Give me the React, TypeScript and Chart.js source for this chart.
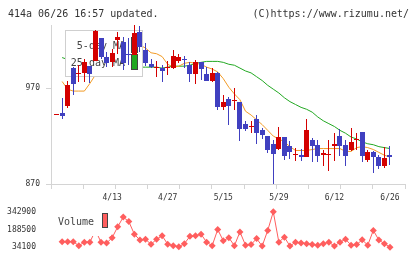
import React, { useEffect, useRef } from 'react';
import { Chart, registerables } from 'chart.js';

Chart.register(...registerables);

// Daily prices (yen), oldest first
const opens = [942, 944, 951, 991, 985, 986, 993, 998, 1022, 1003, 997, 1020, 1018, 1006, 1005, 1029, 1010, 995, 991, 991, 991, 991, 998, 1001, 994, 985, 997, 985, 978, 986, 950, 959, 957, 956, 933, 930, 938, 926, 920, 912, 907, 919, 910, 900, 900, 898, 916, 911, 900, 900, 910, 920, 911, 906, 916, 924, 895, 903, 898, 889, 900];
const highs = [942, 960, 978, 992, 994, 1001, 993, 1031, 1022, 1008, 1011, 1029, 1023, 1022, 1036, 1035, 1017, 1000, 998, 994, 998, 1010, 1006, 1004, 997, 999, 997, 992, 991, 987, 963, 961, 970, 956, 936, 936, 942, 928, 920, 916, 930, 919, 915, 908, 907, 938, 918, 916, 905, 916, 923, 927, 916, 928, 923, 924, 905, 904, 900, 909, 910];
const lows = [942, 938, 949, 963, 976, 977, 975, 998, 1000, 992, 992, 1006, 989, 994, 1005, 1008, 993, 991, 982, 976, 984, 990, 996, 991, 977, 974, 979, 978, 977, 947, 947, 932, 947, 915, 925, 923, 912, 917, 902, 870, 906, 895, 896, 894, 894, 898, 893, 893, 889, 884, 894, 899, 889, 904, 905, 893, 893, 882, 886, 887, 890];
const closes = [942, 941, 973, 974, 985, 997, 985, 1030, 1003, 996, 1007, 1023, 996, 1005, 1028, 1013, 996, 992, 991, 988, 991, 1004, 1003, 999, 985, 997, 990, 978, 986, 950, 956, 951, 957, 927, 927, 930, 923, 921, 905, 901, 919, 899, 903, 900, 898, 926, 910, 899, 902, 900, 912, 910, 899, 914, 916, 899, 903, 898, 889, 897, 898];

// Moving averages (yen)
const ma5 = [null, 977, 969, 967, 967, 967, 975, 984, 993, 999, 1002, 1008, 1006, 1005, 1010, 1015, 1012, 1007, 1006, 1003, 995, 992, 993, 996, 997, 996, 995, 992, 990, 987, 980, 971, 964, 958, 946, 942, 937, 932, 926, 920, 917, 914, 909, 905, 905, 905, 906, 907, 907, 907, 907, 907, 904, 904, 908, 909, 908, 906, 903, 900, 898];
const ma25 = [null, 1002, 1000, 999, 998, 997, 996, 995, 994, 994, 993, 993, 992, 992, 992, 992, 992, 992, 992, 991, 992, 993, 993, 993, 994, 996, 997, 998, 998, 998, 997, 995, 994, 991, 988, 986, 982, 978, 973, 969, 965, 960, 956, 953, 950, 948, 945, 940, 936, 933, 930, 926, 923, 919, 917, 914, 912, 911, 909, 908, 907];

// Daily volume (shares)
const volumes = [null, 82700, 82700, 82700, 47200, 78100, 78100, 180000, 78100, 70400, 116700, 211700, 296600, 258000, 147600, 95900, 103600, 59600, 103600, 134500, 59600, 47200, 38000, 65000, 129000, 134500, 147600, 78100, 47200, 188500, 90500, 116700, 47200, 167700, 51900, 57300, 109000, 44100, 180800, 342900, 78100, 121300, 44100, 78100, 70400, 65000, 57300, 51900, 65000, 78100, 44100, 78100, 103600, 51900, 57300, 98200, 51900, 180800, 95900, 65000, 34100];

// Axis labels
const dateLabels = ['4/13', '4/27', '5/15', '5/29', '6/12', '6/26'];
const dateLabelIndex = [10, 20, 30, 40, 50, 60];
const priceTicks = [870, 970];
const volumeTicks = [34100, 188500, 342900];

const MONO = '"DejaVu Sans Mono", monospace';
const AXIS = '#d4d4d4';
const TEXT = '#333333';
const UP = '#d40000';
const DOWN = '#4040c0';
const MA5_COLOR = '#f29b26';
const MA25_COLOR = '#22a822';
const VOL_COLOR = '#ff5e5e';
const X_MIN = -1;
const X_MAX = 62.7;
const BODY_WIDTH = 5;
const WICK_WIDTH = 1;

const idx = closes.map((_, i) => i);
const candleColors = idx.map((i) => (closes[i] >= opens[i] ? UP : DOWN));

// evenly spaced tick marks along the time axis, plus the labelled dates
const divisionTicks = Array.from({ length: 12 }, (_, k) => X_MIN + (k * (X_MAX - X_MIN)) / 11);
const xTicks = [...divisionTicks, ...dateLabelIndex].sort((a, b) => a - b).map((v) => ({ value: v }));

// fixed candle widths, snapped to whole pixels so bodies and wicks stay sharp
const crispBars = {
  id: 'crispBars',
  beforeDatasetDraw(chart: any, args: any) {
    const meta = args.meta;
    if (meta.type !== 'bar') return;
    const w = args.index === 0 ? BODY_WIDTH : WICK_WIDTH;
    meta.data.forEach((el: any) => {
      el.width = w;
      el.x = Math.floor(el.x) + 0.5;
      el.y = Math.round(el.y);
      el.base = Math.round(el.base);
    });
  },
};

const mainDecor = {
  id: 'mainDecor',
  beforeDatasetDraw(chart: any, args: any) {
    if (args.index !== 1) return; // legend sits above the MA lines, below the candles
    const ctx = chart.ctx;
    ctx.save();
    ctx.fillStyle = '#ffffff';
    ctx.fillRect(65, 30, 78, 47);
    ctx.strokeStyle = '#cfcfcf';
    ctx.lineWidth = 1;
    ctx.strokeRect(65.5, 30.5, 77, 46);
    ctx.font = `10px ${MONO}`;
    ctx.fillStyle = '#444';
    ctx.textAlign = 'right';
    ctx.textBaseline = 'middle';
    ctx.fillText('5-day MA', 125, 46);
    ctx.fillText('25-day MA', 125, 63);
    ctx.strokeStyle = '#444';
    ctx.fillStyle = MA5_COLOR;
    ctx.fillRect(132, 38, 5, 14);
    ctx.strokeRect(131.5, 37.5, 6, 15);
    ctx.fillStyle = MA25_COLOR;
    ctx.fillRect(132, 55, 5, 14);
    ctx.strokeRect(131.5, 54.5, 6, 15);
    ctx.restore();
  },
  afterDraw(chart: any) {
    const ctx = chart.ctx;
    ctx.save();
    ctx.font = `10px ${MONO}`;
    ctx.fillStyle = TEXT;
    ctx.textBaseline = 'alphabetic';
    ctx.textAlign = 'left';
    ctx.fillText('414a 06/26 16:57 updated.', 8, 16.5);
    ctx.textAlign = 'right';
    ctx.fillText('(C)https://www.rizumu.net/', 409, 16.5);
    ctx.restore();
  },
};

const volumeDecor = {
  id: 'volumeDecor',
  afterDatasetsDraw(chart: any) {
    const ctx = chart.ctx;
    ctx.save();
    ctx.fillStyle = '#ffffff';
    ctx.fillRect(55, 7, 56, 29);
    ctx.font = `10px ${MONO}`;
    ctx.fillStyle = '#444';
    ctx.textAlign = 'left';
    ctx.textBaseline = 'middle';
    ctx.fillText('Volume', 58, 22);
    ctx.fillStyle = VOL_COLOR;
    ctx.fillRect(102, 13, 6, 15);
    ctx.strokeStyle = '#444';
    ctx.lineWidth = 1;
    ctx.strokeRect(102.5, 13.5, 5, 14);
    ctx.restore();
  },
};

export default function App() {
  const mainRef = useRef<HTMLCanvasElement>(null);
  const volRef = useRef<HTMLCanvasElement>(null);

  useEffect(() => {
    document.body.style.margin = '0';

    const main = new Chart(mainRef.current as HTMLCanvasElement, {
      type: 'bar',
      data: {
        datasets: [
          {
            type: 'bar',
            label: 'body',
            data: idx.map((i) => ({ x: i, y: [opens[i], closes[i]] })) as any,
            backgroundColor: candleColors,
            borderWidth: 0,
            minBarLength: 1,
            inflateAmount: 0,
            grouped: false,
            order: 0,
          },
          {
            type: 'bar',
            label: 'wick',
            data: idx.map((i) => ({ x: i, y: [lows[i], highs[i]] })) as any,
            backgroundColor: candleColors,
            borderWidth: 0,
            inflateAmount: 0,
            grouped: false,
            order: 1,
          },
          {
            type: 'line',
            label: '5-day MA',
            data: idx.map((i) => ({ x: i, y: ma5[i] })) as any,
            borderColor: MA5_COLOR,
            borderWidth: 1,
            pointRadius: 0,
            tension: 0,
            order: 2,
          },
          {
            type: 'line',
            label: '25-day MA',
            data: idx.map((i) => ({ x: i, y: ma25[i] })) as any,
            borderColor: MA25_COLOR,
            borderWidth: 1,
            pointRadius: 0,
            tension: 0,
            order: 3,
          },
        ],
      },
      options: {
        responsive: false,
        animation: false,
        devicePixelRatio: 1,
        events: [],
        layout: { padding: { left: 0, right: 15, top: 25, bottom: 0 } },
        plugins: { legend: { display: false }, tooltip: { enabled: false } },
        scales: {
          x: {
            type: 'linear',
            min: X_MIN,
            max: X_MAX,
            offset: false,
            afterBuildTicks: (s: any) => {
              s.ticks = xTicks.map((t) => ({ ...t }));
            },
            afterFit: (s: any) => {
              s.height = 21;
            },
            grid: {
              drawOnChartArea: false,
              offset: false,
              tickLength: 5,
              color: (c: any) =>
                c.tick && dateLabelIndex.includes(c.tick.value) ? 'rgba(0,0,0,0)' : AXIS,
            },
            border: { color: AXIS },
            ticks: {
              autoSkip: false,
              maxRotation: 0,
              padding: 4,
              color: TEXT,
              font: { family: MONO, size: 8 },
              callback: (v: any) => {
                const k = dateLabelIndex.indexOf(Number(v));
                return k >= 0 ? dateLabels[k] : '';
              },
            },
          },
          y: {
            min: 870,
            max: 1036,
            afterBuildTicks: (s: any) => {
              s.ticks = priceTicks.map((v) => ({ value: v }));
            },
            afterFit: (s: any) => {
              s.width = 51;
            },
            grid: { drawOnChartArea: false, tickLength: 5, color: AXIS },
            border: { color: AXIS },
            ticks: {
              padding: 6,
              color: TEXT,
              font: { family: MONO, size: 8 },
              callback: (v: any) => String(v),
            },
          },
        },
      } as any,
      plugins: [crispBars, mainDecor],
    });

    const vol = new Chart(volRef.current as HTMLCanvasElement, {
      type: 'line',
      data: {
        datasets: [
          {
            label: 'Volume',
            data: idx.map((i) => ({ x: i, y: volumes[i] })) as any,
            borderColor: VOL_COLOR,
            borderWidth: 1,
            pointStyle: 'rectRot',
            pointRadius: 3.5,
            pointBackgroundColor: VOL_COLOR,
            pointBorderWidth: 0,
            tension: 0,
            clip: false as any,
          },
        ],
      },
      options: {
        responsive: false,
        animation: false,
        devicePixelRatio: 1,
        events: [],
        layout: { padding: { left: 0, right: 15, top: 9, bottom: 10 } },
        plugins: { legend: { display: false }, tooltip: { enabled: false } },
        scales: {
          x: { type: 'linear', min: X_MIN, max: X_MAX, display: false },
          y: {
            min: volumeTicks[0],
            max: volumeTicks[volumeTicks.length - 1],
            afterBuildTicks: (s: any) => {
              s.ticks = volumeTicks.map((v) => ({ value: v }));
            },
            afterFit: (s: any) => {
              s.width = 51;
            },
            grid: { display: false },
            border: { display: false },
            ticks: {
              padding: 7,
              color: TEXT,
              font: { family: MONO, size: 8 },
              callback: (v: any) => String(v),
            },
          },
        },
      } as any,
      plugins: [volumeDecor],
    });

    return () => {
      main.destroy();
      vol.destroy();
    };
  }, []);

  return (
    <div style={{ position: 'relative', width: 420, height: 259, background: '#fff', overflow: 'hidden' }}>
      <canvas ref={mainRef} width={420} height={205} style={{ position: 'absolute', left: 0, top: 0 }} />
      <canvas ref={volRef} width={420} height={59} style={{ position: 'absolute', left: 0, top: 200 }} />
    </div>
  );
}
